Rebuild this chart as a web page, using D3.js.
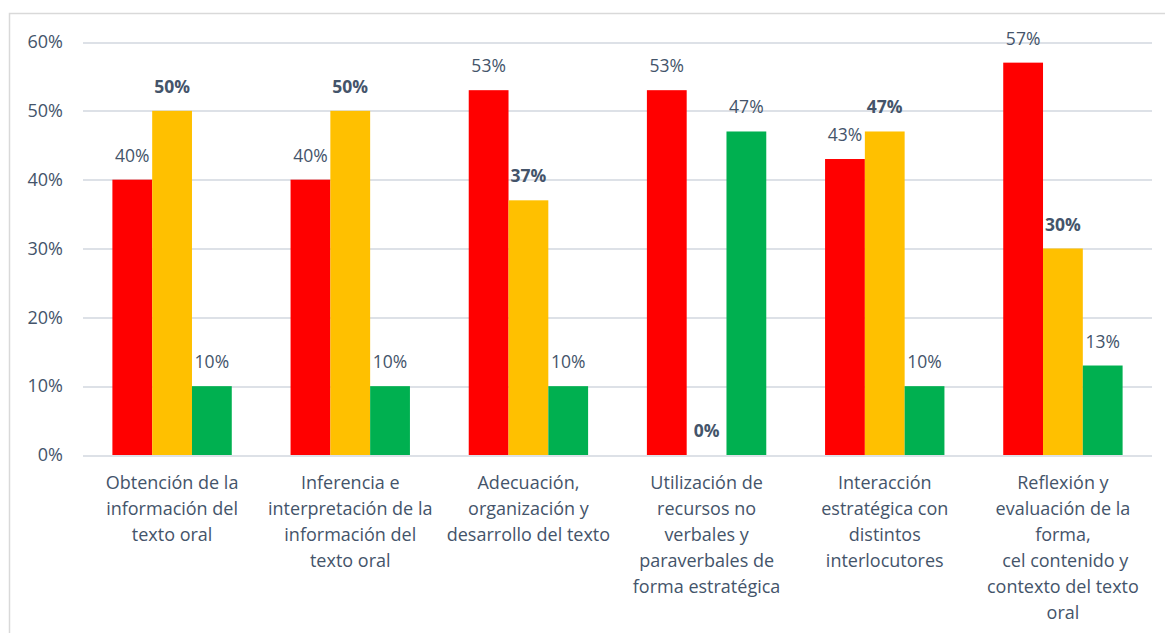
<!DOCTYPE html>
<html lang="es">
<head>
  <meta charset="UTF-8">
  <title>Resultados por competencia</title>
  <script src="https://d3js.org/d3.v7.min.js"></script>
  <style>
    body {
      margin: 0;
      background: #fff;
      font-family: "Open Sans", "Noto Sans", Arial, sans-serif;
    }
    #chart { display: block; }
    .grid line { stroke: #dde1e7; stroke-width: 2; shape-rendering: crispEdges; }
    .grid .domain { display: none; }
    .tick-label { font-size: 18px; fill: #44546a; }
    .cat-label { font-size: 18px; fill: #44546a; }
    .val { font-size: 17.5px; fill: #44546a; }
    .val.bold { font-weight: bold; }
  </style>
</head>
<body>
  <svg id="chart"></svg>

  <script>
    // datos
    const categories = [
      ["Obtención de la", "información del", "texto oral"],
      ["Inferencia e", "interpretación de la", "información del", "texto oral"],
      ["Adecuación,", "organización y", "desarrollo del texto"],
      ["Utilización de", "recursos no", "verbales y", "paraverbales de", "forma estratégica"],
      ["Interacción", "estratégica con", "distintos", "interlocutores"],
      ["Reflexión y", "evaluación de la", "forma,", " cel contenido y", "contexto del texto", "oral"]
    ];
    const serieRoja     = [40, 40, 53, 53, 43, 57];
    const serieAmarilla = [50, 50, 37, 0, 47, 30];
    const serieVerde    = [10, 10, 10, 47, 10, 13];
    const yTicks = [0, 10, 20, 30, 40, 50, 60];

    const series = [
      { key: "roja",     values: serieRoja,     color: "#ff0000", bold: false },
      { key: "amarilla", values: serieAmarilla, color: "#ffc000", bold: true },
      { key: "verde",    values: serieVerde,    color: "#00b050", bold: false }
    ];

    const W = 1165, H = 633;
    const margin = { top: 42, left: 83, right: 13, bottom: 178 };
    const width = W - margin.left - margin.right;
    const height = H - margin.top - margin.bottom;

    const svg = d3.select("#chart").attr("width", W).attr("height", H);

    // marco (solo se ven los bordes superior e izquierdo)
    svg.append("rect")
      .attr("x", 9.5).attr("y", 13.5)
      .attr("width", W + 20).attr("height", H + 20)
      .attr("fill", "none")
      .attr("stroke", "#d9d9d9")
      .attr("stroke-width", 1.5);

    const g = svg.append("g").attr("transform", `translate(${margin.left},${margin.top})`);

    const idx = d3.range(categories.length);
    const x = d3.scaleBand().domain(idx).range([0, width]).paddingInner(0.33).paddingOuter(0.165);
    const x1 = d3.scaleBand().domain(series.map(s => s.key)).range([0, x.bandwidth()]);
    const y = d3.scaleLinear().domain([0, 60]).range([height, 0]);

    // rejilla
    g.append("g")
      .attr("class", "grid")
      .call(d3.axisLeft(y).tickValues(yTicks).tickSize(-width).tickFormat(""));

    // etiquetas eje Y
    g.selectAll(".tick-label")
      .data(yTicks)
      .enter().append("text")
        .attr("class", "tick-label")
        .attr("x", -20)
        .attr("y", d => y(d))
        .attr("dy", "0.35em")
        .attr("text-anchor", "end")
        .text(d => d + "%");

    // barras
    const grupos = g.selectAll(".grupo")
      .data(idx)
      .enter().append("g")
        .attr("class", "grupo")
        .attr("transform", i => `translate(${x(i)},0)`);

    series.forEach(s => {
      grupos.append("rect")
        .attr("x", x1(s.key))
        .attr("y", i => y(s.values[i]))
        .attr("width", x1.bandwidth())
        .attr("height", i => height - y(s.values[i]))
        .attr("fill", s.color);

      grupos.append("text")
        .attr("class", s.bold ? "val bold" : "val")
        .attr("x", x1(s.key) + x1.bandwidth() / 2)
        .attr("y", i => y(s.values[i]) - 18)
        .attr("text-anchor", "middle")
        .text(i => s.values[i] + "%");
    });

    // etiquetas de categoría
    const cat = g.selectAll(".cat-label")
      .data(idx)
      .enter().append("text")
        .attr("class", "cat-label")
        .attr("text-anchor", "middle")
        .attr("x", i => x(i) + x.bandwidth() / 2)
        .attr("y", height + 34);

    cat.selectAll("tspan")
      .data(i => categories[i].map(t => ({ t, i })))
      .enter().append("tspan")
        .attr("x", d => x(d.i) + x.bandwidth() / 2)
        .attr("dy", (d, j) => j === 0 ? 0 : 26)
        .attr("xml:space", "preserve")
        .text(d => d.t);
  </script>
</body>
</html>
